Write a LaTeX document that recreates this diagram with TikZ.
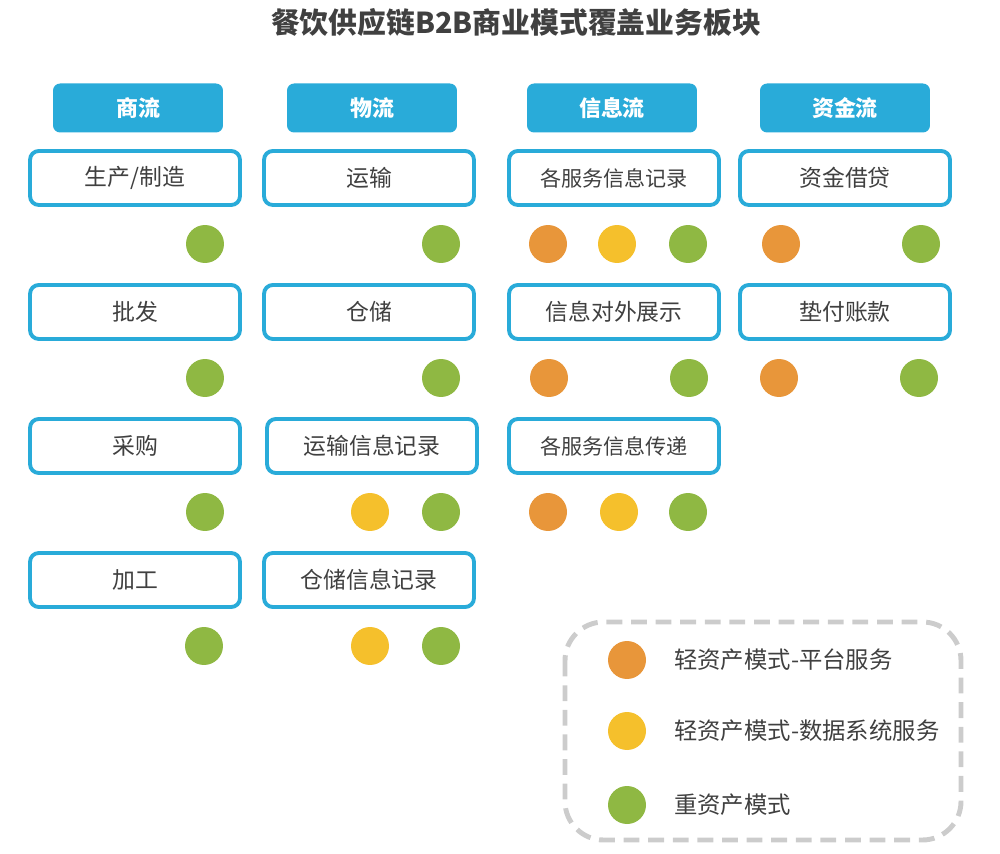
\documentclass[tikz,border=0pt]{standalone}
\usepackage{fontspec}
\setmainfont{Noto Sans CJK SC}
\usetikzlibrary{positioning}

\definecolor{hdblue}{HTML}{29ABD9}
\definecolor{txtgray}{HTML}{404040}
\definecolor{dotorange}{HTML}{E8963A}
\definecolor{dotyellow}{HTML}{F5C02C}
\definecolor{dotgreen}{HTML}{8FB843}
\definecolor{legendgray}{HTML}{CCCCCC}

\begin{document}
\begin{tikzpicture}
[x=0.02cm,y=-0.02cm,node distance=1.58cm and 0.5cm]
\tikzstyle{head}=[fill=hdblue,rounded corners=4pt,minimum width=3.4cm,minimum height=0.98cm,text=white,font=\fontsize{12.5}{14}\selectfont\bfseries]
\tikzstyle{item}=[draw=hdblue,line width=2.2pt,fill=white,rounded corners=5pt,minimum width=4.2cm,minimum height=1.08cm,text=txtgray,font=\fontsize{13}{15}\selectfont]
\tikzstyle{small item}=[item,font=\fontsize{12}{14}\selectfont]
\tikzstyle{dot}=[circle,minimum size=0.76cm,inner sep=0pt]
\tikzstyle{light}=[dot,fill=dotorange]
\tikzstyle{data}=[dot,fill=dotyellow]
\tikzstyle{heavy}=[dot,fill=dotgreen]
\tikzstyle{legendtext}=[right,text=txtgray,font=\fontsize{13.3}{15}\selectfont]

\useasboundingbox (0,0) rectangle (1000,854);

\node[font=\fontsize{16.4}{19}\selectfont\bfseries,text=txtgray] (title) at (516,22) {餐饮供应链B2B商业模式覆盖业务板块};

% column heads
\node[head] (h1) at (138,108) {商流};
\node[head] (h2) at (372,108) {物流};
\node[head] (h3) at (612,108) {信息流};
\node[head] (h4) at (845,108) {资金流};

% business items
\node[item] (s1) at (135,178) {生产/制造};
\node[item] (s2) at (135,312) {批发};
\node[item] (s3) at (135,446) {采购};
\node[item] (s4) at (135,580) {加工};

\node[item] (w1) at (369,178) {运输};
\node[item] (w2) at (369,312) {仓储};
\node[item] (w3) at (372,446) {运输信息记录};
\node[item] (w4) at (369,580) {仓储信息记录};

\node[small item] (x1) at (614,178) {各服务信息记录};
\node[item] (x2) at (614,312) {信息对外展示};
\node[small item] (x3) at (614,446) {各服务信息传递};

\node[item] (z1) at (845,178) {资金借贷};
\node[item] (z2) at (845,312) {垫付账款};

% model dots
\node[heavy] (s1g) at (205,244) {};
\node[heavy] (s2g) at (205,378) {};
\node[heavy] (s3g) at (205,512) {};
\node[heavy] (s4g) at (204,646) {};

\node[heavy] (w1g) at (441,244) {};
\node[heavy] (w2g) at (441,378) {};
\node[data] (w3y) at (370,512) {};
\node[heavy] (w3g) at (441,512) {};
\node[data] (w4y) at (370,646) {};
\node[heavy] (w4g) at (441,646) {};

\node[light] (x1o) at (548,244) {};
\node[data] (x1y) at (617,244) {};
\node[heavy] (x1g) at (688,244) {};
\node[light] (x2o) at (549,378) {};
\node[heavy] (x2g) at (689,378) {};
\node[light] (x3o) at (548,512) {};
\node[data] (x3y) at (619,512) {};
\node[heavy] (x3g) at (688,512) {};

\node[light] (z1o) at (781,244) {};
\node[heavy] (z1g) at (921,244) {};
\node[light] (z2o) at (779,378) {};
\node[heavy] (z2g) at (919,378) {};

% legend
\draw[legendgray,line width=2.8pt,dash pattern=on 9pt off 5pt,rounded corners=22pt] (565,622) rectangle (961,840);
\node[light] (l1) at (627,660) {};
\node[data] (l2) at (627,731) {};
\node[heavy] (l3) at (627,805) {};
\node[legendtext] (t1) at (668,660) {轻资产模式-平台服务};
\node[legendtext] (t2) at (668,731) {轻资产模式-数据系统服务};
\node[legendtext] (t3) at (668,805) {重资产模式};
\end{tikzpicture}
\end{document}
